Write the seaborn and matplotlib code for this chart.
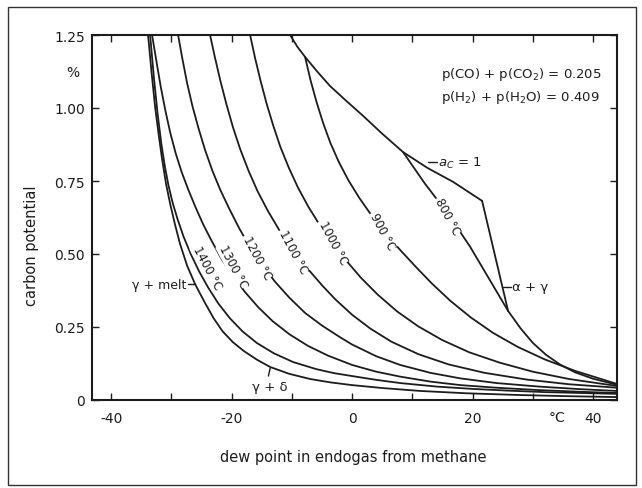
import matplotlib
matplotlib.use("Agg")
import matplotlib.pyplot as plt
import matplotlib.transforms as mtransforms
from matplotlib.patches import Rectangle
import seaborn as sns
import pandas as pd

# ---------------- data ----------------
g_melt_x = [-33.89, -33.3, -32.7, -32.1, -31.56, -30.9, -30.2, -29.4, -28.57, -27.4, -26.08, -24.5, -23.0, -21.5,
            -19.8, -18.0, -15.8, -13.6, -10.5, -7.0, -3.5, 0.0, 5.0, 11.3, 19.0, 27.9, 36.0, 44.0]
g_melt_y = [1.25, 1.12, 1.00, 0.905, 0.825, 0.74, 0.67, 0.60, 0.534, 0.46, 0.397, 0.335, 0.28, 0.235,
            0.198, 0.168, 0.138, 0.113, 0.090, 0.072, 0.060, 0.051, 0.041, 0.031, 0.023, 0.017, 0.013, 0.010]

t1400_x = [-33.55, -32.9, -32.3, -31.7, -31.1, -30.5, -29.8, -29.0, -28.0, -26.8, -25.4, -23.9, -22.2, -20.3,
           -18.2, -15.8, -13.0, -9.8, -6.0, -3.0, 0.0, 4.0, 8.0, 14.0, 20.0, 26.0, 32.0, 38.0, 44.0]
t1400_y = [1.25, 1.10, 0.98, 0.88, 0.80, 0.735, 0.675, 0.62, 0.56, 0.50, 0.44, 0.385, 0.33, 0.28,
           0.235, 0.195, 0.160, 0.130, 0.106, 0.092, 0.082, 0.069, 0.058, 0.046, 0.038, 0.032, 0.027, 0.024, 0.021]

t1300_x = [-33.22, -32.5, -31.8, -31.0, -30.2, -29.3, -28.3, -27.2, -26.0, -24.7, -23.2, -21.6, -19.8, -17.8,
           -15.6, -13.2, -10.4, -7.3, -4.0, 0.0, 4.0, 8.0, 13.0, 18.0, 24.0, 31.0, 38.0, 44.0]
t1300_y = [1.25, 1.16, 1.075, 0.99, 0.915, 0.845, 0.78, 0.72, 0.66, 0.60, 0.54, 0.48, 0.425, 0.37,
           0.318, 0.27, 0.225, 0.185, 0.152, 0.120, 0.097, 0.080, 0.063, 0.051, 0.042, 0.034, 0.028, 0.024]

t1200_x = [-28.9, -28.2, -27.4, -26.5, -25.5, -24.4, -23.2, -21.9, -20.4, -18.8, -17.0, -15.0, -12.8, -10.4,
           -7.8, -5.0, -2.0, 0.0, 4.0, 8.0, 13.0, 18.0, 24.0, 31.0, 38.0, 44.0]
t1200_y = [1.25, 1.17, 1.085, 1.005, 0.93, 0.855, 0.785, 0.72, 0.655, 0.59, 0.525, 0.465, 0.405, 0.35,
           0.298, 0.255, 0.215, 0.190, 0.150, 0.120, 0.093, 0.074, 0.058, 0.046, 0.037, 0.031]

t1100_x = [-23.59, -22.8, -21.9, -20.9, -19.8, -18.6, -17.2, -15.7, -14.0, -12.1, -10.0, -7.6, -5.0, -2.8,
           0.0, 3.0, 6.5, 11.0, 16.0, 22.0, 29.0, 36.0, 44.0]
t1100_y = [1.25, 1.175, 1.095, 1.015, 0.935, 0.86, 0.785, 0.715, 0.648, 0.582, 0.518, 0.455, 0.393, 0.345,
           0.292, 0.245, 0.200, 0.157, 0.122, 0.093, 0.070, 0.054, 0.042]

t1000_x = [-16.94, -16.1, -15.2, -14.2, -13.1, -11.9, -10.5, -9.0, -7.3, -5.4, -3.3, -1.0, 1.5, 4.3,
           7.5, 11.0, 15.0, 19.5, 24.5, 30.0, 36.0, 44.0]
t1000_y = [1.25, 1.17, 1.093, 1.015, 0.94, 0.866, 0.795, 0.728, 0.663, 0.600, 0.540, 0.478, 0.418, 0.360,
           0.303, 0.252, 0.205, 0.163, 0.128, 0.097, 0.072, 0.048]

t900_x = [-7.81, -6.9, -5.9, -4.8, -3.6, -2.2, -0.6, 1.2, 3.2, 5.4, 7.8, 10.4, 13.2, 16.3,
          19.7, 23.4, 27.5, 32.0, 37.0, 44.0]
t900_y = [1.175, 1.095, 1.02, 0.948, 0.88, 0.815, 0.752, 0.692, 0.633, 0.576, 0.518, 0.460, 0.400, 0.340,
          0.283, 0.230, 0.182, 0.139, 0.100, 0.055]

t800_x = [8.47, 12.13, 15.78, 19.6, 22.9, 25.91, 28.0, 30.0, 32.2, 34.5, 37.0, 40.0, 44.0]
t800_y = [0.849, 0.74, 0.642, 0.525, 0.410, 0.305, 0.245, 0.196, 0.155, 0.122, 0.095, 0.073, 0.052]

ac1_x = [-10.3, -9.1, -7.81, -5.8, -3.65, -1.0, 1.83, 5.0, 8.47, 12.5, 16.78, 21.59]
ac1_y = [1.25, 1.21, 1.175, 1.125, 1.075, 1.025, 0.973, 0.912, 0.849, 0.795, 0.747, 0.682]

ag_x = [21.59, 25.91]
ag_y = [0.682, 0.305]

curve_names = ["g_melt", "1400", "1300", "1200", "1100", "1000", "900", "800", "ac1", "ag"]
curve_xs = [g_melt_x, t1400_x, t1300_x, t1200_x, t1100_x, t1000_x, t900_x, t800_x, ac1_x, ag_x]
curve_ys = [g_melt_y, t1400_y, t1300_y, t1200_y, t1100_y, t1000_y, t900_y, t800_y, ac1_y, ag_y]

iso_labels = ["1400 °C", "1300 °C", "1200 °C", "1100 °C", "1000 °C", "900 °C", "800 °C"]
iso_label_x = [-24.1, -19.8, -15.8, -9.8, -3.2, 5.0, 15.8]
iso_label_y = [0.455, 0.459, 0.490, 0.510, 0.541, 0.579, 0.630]

x_ticks = [-40, -20, 0, 20, 40]
x_minor = [-30, -10, 10, 30]
y_ticks = [0, 0.25, 0.50, 0.75, 1.00, 1.25]
y_ticklabels = ["0", "0.25", "0.50", "0.75", "1.00", "1.25"]

# ---------------- figure ----------------
sns.set_theme(style="ticks")
plt.rcParams["font.family"] = ["DejaVu Sans"]

fig = plt.figure(figsize=(6.42, 4.89), dpi=100)
fig.patch.set_facecolor("white")
ax = fig.add_axes([92 / 642, 1 - 401 / 489, 525 / 642, 365 / 489])
ax.set_facecolor("white")

rows = []
for name, xs, ys in zip(curve_names, curve_xs, curve_ys):
    for i, (xv, yv) in enumerate(zip(xs, ys)):
        rows.append({"curve": name, "order": i, "x": xv, "y": yv})
df = pd.DataFrame(rows)

ink = "#1c1c1c"
sns.lineplot(data=df, x="x", y="y", units="curve", estimator=None, sort=False,
             color=ink, linewidth=1.3, ax=ax, legend=False)

# isotherm labels
for txt, lx, ly in zip(iso_labels, iso_label_x, iso_label_y):
    ax.text(lx, ly, txt, rotation=-62, ha="center", va="center", fontsize=8.5,
            color=ink, rotation_mode="anchor",
            bbox=dict(boxstyle="square,pad=0.05", fc="white", ec="none"))

# boundary annotations
ax.plot([12.6, 14.1], [0.815, 0.815], color=ink, lw=1.0)
ax.text(14.3, 0.815, "$a_C$ = 1", ha="left", va="center", fontsize=9.5, color=ink)
ax.plot([25.1, 26.4], [0.387, 0.387], color=ink, lw=1.0)
ax.text(26.6, 0.387, "α + γ", ha="left", va="center", fontsize=9.5, color=ink)
ax.plot([-27.3, -26.1], [0.397, 0.397], color=ink, lw=1.0)
ax.text(-27.6, 0.397, "γ + melt", ha="right", va="center", fontsize=9, color=ink)
ax.plot([-13.9, -13.6], [0.082, 0.110], color=ink, lw=1.0)
ax.text(-13.6, 0.045, "γ + δ", ha="center", va="center", fontsize=9.5, color=ink)

ax.text(0.665, 0.895, "p(CO) + p(CO$_2$) = 0.205", transform=ax.transAxes,
        ha="left", va="center", fontsize=9.5, color=ink)
ax.text(0.665, 0.832, "p(H$_2$) + p(H$_2$O) = 0.409", transform=ax.transAxes,
        ha="left", va="center", fontsize=9.5, color=ink)

# axes styling
ax.set_xlim(-43.2, 44.0)
ax.set_ylim(0, 1.25)
ax.set_xticks(x_ticks)
ax.set_xticklabels([str(v) for v in x_ticks])
ax.set_xticks(x_minor, minor=True)
ax.set_yticks(y_ticks)
ax.set_yticklabels(y_ticklabels)
ax.tick_params(which="both", direction="in", top=True, right=True, length=5,
               width=1.0, color=ink, labelsize=10, labelcolor=ink)
ax.tick_params(axis="x", which="major", pad=8)
ax.tick_params(axis="y", which="major", pad=5)
for sp in ax.spines.values():
    sp.set_linewidth(1.5)
    sp.set_color(ink)

ax.set_xlabel("dew point in endogas from methane", fontsize=10.5, color=ink)
ax.set_ylabel("carbon potential", fontsize=10.5, color=ink)
ax.xaxis.set_label_coords(0.497, -0.134)
ax.yaxis.set_label_coords(-0.101, 0.425)

trans = mtransforms.blended_transform_factory(ax.transData, ax.transAxes)
ax.text(34.0, -0.047, "°C", transform=trans, ha="center", va="center", fontsize=10, color=ink)
ax.text(-0.036, 0.899, "%", transform=ax.transAxes, ha="center", va="center", fontsize=10, color=ink)

# outer frame
fig.patches.append(Rectangle((8 / 642, 3 / 489), 628 / 642, 478 / 489, transform=fig.transFigure,
                             fill=False, ec="#333333", lw=1.0))

fig.savefig("out.png", dpi=100, facecolor="white")
